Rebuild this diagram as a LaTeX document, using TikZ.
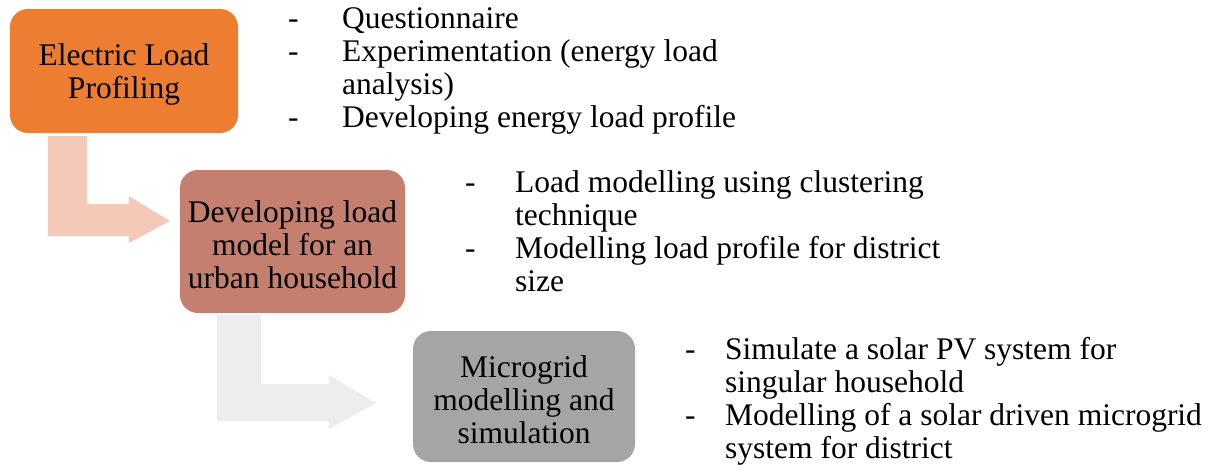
\documentclass[tikz,border=0pt]{standalone}
\usepackage{fontspec}
\setmainfont{Liberation Serif}
\usetikzlibrary{calc}

\definecolor{stageone}{HTML}{ED7D31}
\definecolor{stagetwo}{HTML}{C57F6F}
\definecolor{stagethree}{HTML}{A5A5A5}
\definecolor{bendone}{HTML}{F4C9B8}
\definecolor{bendtwo}{HTML}{EDEDED}

\newcommand{\bodyfont}{\fontsize{31.5}{33}\selectfont}
\newcommand{\dashitem}[1]{\makebox[#1][l]{-}}
% taller first line, so the block of text sits a little lower in its box
\newcommand{\toprule}{\rule{0pt}{28pt}}

\tikzset{
  stage/.style={rounded corners=18pt, inner sep=0pt, align=center,
    font=\bodyfont, text=black},
  notes/.style={anchor=base west, inner sep=0pt, text=black}
}

\begin{document}
\begin{tikzpicture}[x=1pt, y=-1pt]
  \useasboundingbox[fill=white] (0,0) rectangle (1231,472);

  % process stages
  \node[stage, fill=stageone, minimum width=228pt, minimum height=124pt]
    (b1) at (124,71) {\toprule Electric Load\\Profiling};
  \node[stage, fill=stagetwo, minimum width=225pt, minimum height=143pt]
    (b2) at (292.5,241.5) {\toprule Developing load\\model for an\\urban household};
  \node[stage, fill=stagethree, minimum width=222pt, minimum height=131pt]
    (b3) at (524,396.5) {\toprule Microgrid\\modelling and\\simulation};

  % bent arrows between stages
  \fill[bendone]
    ($(b1.south west)+(38,3)$) -- ($(b1.south west)+(77,3)$)
    -- ($(b1.south west)+(77,71)$) -- ($(b2.west)+(-51,-37.5)$)
    -- ($(b2.west)+(-51,-45.5)$) -- ($(b2.west)+(-10,-20.5)$)
    -- ($(b2.west)+(-51,1.5)$) -- ($(b2.west)+(-51,-5.5)$)
    -- ($(b1.south west)+(38,103)$) -- cycle;
  \fill[bendtwo]
    ($(b2.south west)+(37,2)$) -- ($(b2.south west)+(81,2)$)
    -- ($(b2.south west)+(81,71)$) -- ($(b3.west)+(-84,-12.5)$)
    -- ($(b3.west)+(-84,-21.5)$) -- ($(b3.west)+(-37,6.5)$)
    -- ($(b3.west)+(-84,32.5)$) -- ($(b3.west)+(-84,24.5)$)
    -- ($(b2.south west)+(37,108)$) -- cycle;

  % activity notes
  \node[notes] (n1) at (288,28) {\parbox[t]{500pt}{\bodyfont
    \dashitem{54pt}Questionnaire\\
    \dashitem{54pt}Experimentation (energy load\\
    \hspace*{54pt}analysis)\\
    \dashitem{54pt}Developing energy load profile}};
  \node[notes] (n2) at (465,192) {\parbox[t]{500pt}{\bodyfont
    \dashitem{50pt}Load modelling using clustering\\
    \hspace*{50pt}technique\\
    \dashitem{50pt}Modelling load profile for district\\
    \hspace*{50pt}size}};
  \node[notes] (n3) at (685,359) {\parbox[t]{540pt}{\bodyfont
    \dashitem{40pt}Simulate a solar PV system for\\
    \hspace*{40pt}singular household\\
    \dashitem{40pt}Modelling of a solar driven microgrid\\
    \hspace*{40pt}system for district}};
\end{tikzpicture}
\end{document}
